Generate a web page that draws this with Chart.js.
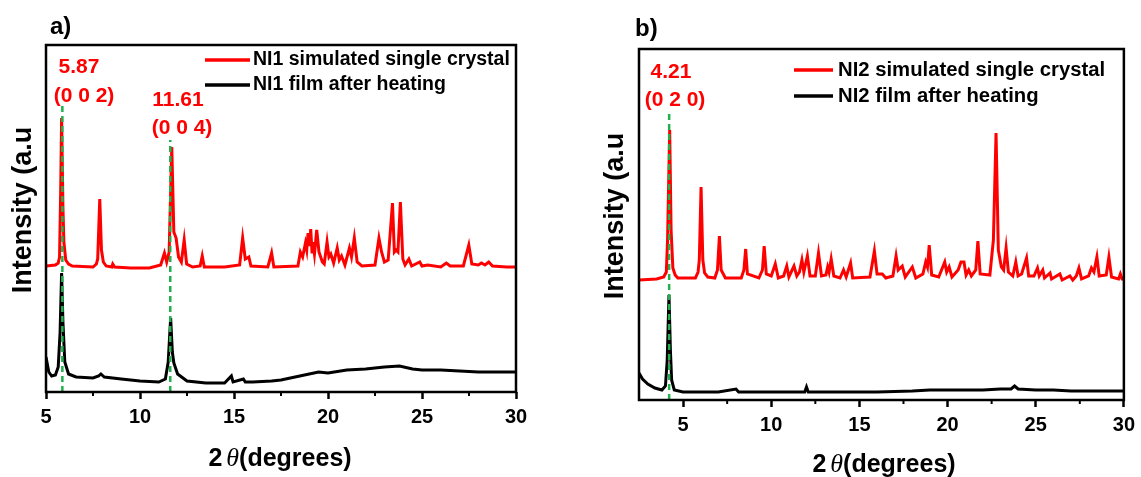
<!DOCTYPE html>
<html>
<head>
<meta charset="utf-8">
<script src="https://cdn.jsdelivr.net/npm/chart.js@4.4.1/dist/chart.umd.min.js"></script>
<style>
  body { margin: 0; background: #fff; }
  canvas { position: absolute; top: 0; }
  #chartA { left: 0; }
  #chartB { left: 570px; }
</style>
</head>
<body>
<canvas id="chartA" width="570" height="477"></canvas>
<canvas id="chartB" width="571" height="477"></canvas>
<script>
// 2theta (degrees), intensity (arbitrary, offset stacked)
const simA = [[5.0,126],[5.5,127],[5.65,129],[5.72,135],[5.78,200],[5.83,274],[5.9,185],[5.95,150],[6.05,132],[6.2,128],[6.4,126],[7.5,125],[7.68,128],[7.75,133],[7.86,193],[7.95,142],[8.05,130],[8.2,126],[8.5,125],[8.55,128],[8.65,125],[9.5,124],[10.5,124],[11.1,127],[11.3,139],[11.42,130],[11.55,140],[11.69,245],[11.8,160],[11.92,154],[12.05,135],[12.2,130],[12.35,152],[12.48,128],[12.8,125],[13.2,126],[13.31,136],[13.42,125],[14.5,125],[15.3,127],[15.46,154],[15.6,133],[15.79,135],[15.9,126],[16.8,125],[17.0,139],[17.12,125],[18.4,126],[18.53,140],[18.65,135],[18.8,149],[18.87,142],[18.94,159],[19.02,146],[19.08,163],[19.15,140],[19.2,150],[19.28,138],[19.4,162],[19.52,140],[19.7,130],[19.8,128],[19.95,150],[20.05,135],[20.15,138],[20.3,129],[20.49,144],[20.6,132],[20.72,136],[20.9,127],[21.14,144],[21.25,135],[21.4,154],[21.55,130],[21.8,126],[22.5,127],[22.71,154],[22.85,140],[23.0,130],[23.2,132],[23.43,189],[23.53,140],[23.62,142],[23.72,140],[23.85,190],[23.98,133],[24.1,127],[24.3,133],[24.45,126],[24.88,130],[25.0,126],[25.3,127],[26.0,125],[26.29,129],[26.5,126],[27.2,126],[27.49,147],[27.65,128],[28.0,127],[28.16,129],[28.35,127],[28.55,130],[28.75,126],[29.5,125],[30,125]];
const filmA = [[5.0,35],[5.15,20],[5.3,16],[5.5,17],[5.65,25],[5.75,60],[5.83,119],[5.9,70],[6.0,30],[6.2,18],[6.6,15],[7.5,14],[7.8,16],[7.92,18],[8.1,15],[9,13],[10,11],[11,10],[11.35,13],[11.5,30],[11.63,74],[11.72,40],[11.8,29],[12.0,18],[12.5,11],[13.5,9],[14.5,9],[14.86,16],[14.95,10],[15.5,13],[15.6,10],[16,10],[17,11],[17.5,12],[18.5,16],[19.5,20],[20,19],[21,22],[22,23],[23,25],[23.8,26],[24.5,23],[25,22],[26,22],[27,21],[28,20],[29,20],[30,20]];
const simB = [[2.5,120],[3.5,121],[3.9,123],[4.05,128],[4.12,160],[4.24,270],[4.32,170],[4.42,132],[4.55,125],[4.7,122],[5.7,122],[5.85,128],[5.92,140],[6.02,213],[6.12,140],[6.22,127],[6.4,123],[6.8,122],[6.95,130],[7.06,164],[7.16,130],[7.4,122],[8.3,122],[8.45,130],[8.55,151],[8.65,126],[9.3,122],[9.5,130],[9.6,154],[9.72,126],[10.0,124],[10.23,136],[10.4,122],[10.7,124],[10.88,134],[11.0,123],[11.29,134],[11.45,124],[11.6,128],[11.74,140],[11.85,128],[12.05,144],[12.2,124],[12.5,124],[12.68,147],[12.85,124],[13.1,125],[13.2,133],[13.28,128],[13.4,141],[13.55,124],[13.9,122],[14.1,130],[14.25,123],[14.5,137],[14.62,122],[15.6,123],[15.85,149],[16.0,126],[16.3,126],[16.5,122],[16.9,124],[17.08,144],[17.2,130],[17.43,134],[17.6,123],[18.0,133],[18.2,122],[18.6,126],[18.76,138],[18.86,133],[18.96,155],[19.1,125],[19.5,123],[19.84,138],[19.95,128],[20.09,133],[20.25,123],[20.6,130],[20.76,138],[20.93,138],[21.05,125],[21.2,130],[21.35,124],[21.6,130],[21.72,159],[21.85,126],[22.4,125],[22.6,160],[22.75,267],[22.88,150],[23.05,133],[23.18,130],[23.32,152],[23.45,128],[23.7,124],[23.87,138],[24.0,124],[24.2,126],[24.48,142],[24.6,124],[24.9,124],[25.1,132],[25.2,124],[25.4,130],[25.5,122],[25.81,127],[25.9,121],[26.37,126],[26.5,120],[26.94,124],[27.1,120],[27.3,124],[27.45,132],[27.6,121],[28.0,124],[28.16,132],[28.3,128],[28.47,143],[28.6,124],[29.0,125],[29.15,143],[29.3,123],[29.7,121],[29.8,126],[29.9,121],[30,121]];
const filmB = [[2.5,27],[2.7,21],[3.0,16],[3.4,12],[3.8,10],[4.0,14],[4.1,40],[4.2,105],[4.28,50],[4.35,20],[4.5,10],[5,8],[6,8],[7,8],[8.0,11],[8.15,8],[10,8],[11,8],[11.9,8],[12.0,13],[12.1,8],[14,8],[16,8],[18,9],[19,10],[20,10],[21,10],[22,10],[23,11],[23.6,11],[23.8,14],[24,11],[25,10],[26,10],[27,9],[28,9],[29,9],[30,9]];

const peaksA = [5.87, 11.61];
const peakTopsA = [288, 252];
const peaksB = [4.21];
const peakTopsB = [290];

const xTicks = [5, 10, 15, 20, 25, 30];
const legendA = ['NI1 simulated single crystal', 'NI1 film after heating'];
const legendB = ['NI2 simulated single crystal', 'NI2 film after heating'];
const notesA = [['5.87', '(0 0 2)'], ['11.61', '(0 0 4)']];
const notesB = [['4.21', '(0 2 0)']];
const yTitle = 'Intensity (a.u';

const RED = '#ff0000';
const GREEN = '#22b04e';
const FONT = '"Liberation Sans", Arial, sans-serif';

function pts(arr) { return arr.map(p => ({x: p[0], y: p[1]})); }

// frame, minor ticks, legend, peak labels, panel letter, axis titles
const decor = {
    id: 'decor',
    afterDraw(chart, args, o) {
        const ctx = chart.ctx;
        const a = chart.chartArea;
        const xs = chart.scales.x;
        ctx.save();
        ctx.strokeStyle = '#000';
        ctx.lineWidth = 2.5;
        ctx.strokeRect(a.left, a.top, a.right - a.left, a.bottom - a.top);

        // minor ticks every 2.5
        ctx.lineWidth = 2;
        for (let v = xs.min; v <= xs.max; v += 2.5) {
            if (v % 5 === 0 || v === xs.min) continue;
            const px = xs.getPixelForValue(v);
            ctx.beginPath();
            ctx.moveTo(px, a.bottom);
            ctx.lineTo(px, a.bottom + 4);
            ctx.stroke();
        }

        // legend
        const cols = [RED, '#000'];
        ctx.font = 'bold ' + o.legFont + 'px ' + FONT;
        ctx.textBaseline = 'middle';
        ctx.textAlign = 'left';
        o.legend.forEach((t, i) => {
            const y = o.legY[i];
            ctx.strokeStyle = cols[i];
            ctx.lineWidth = 3.5;
            ctx.beginPath();
            ctx.moveTo(o.legX[0], y);
            ctx.lineTo(o.legX[1], y);
            ctx.stroke();
            ctx.fillStyle = '#000';
            ctx.fillText(t, o.legX[2], y);
        });

        // peak labels
        ctx.fillStyle = RED;
        ctx.textAlign = 'center';
        ctx.font = 'bold 21px ' + FONT;
        o.notes.forEach((n, i) => {
            const p = o.notePos[i];
            ctx.fillText(n[0], p[0], p[1]);
            ctx.fillText(n[1], p[2], p[3]);
        });

        // panel letter
        ctx.fillStyle = '#000';
        ctx.textAlign = 'left';
        ctx.font = 'bold 24px ' + FONT;
        ctx.fillText(o.letter, o.letterPos[0], o.letterPos[1]);

        // y title
        ctx.save();
        ctx.translate(o.yTitlePos[0], o.yTitlePos[1]);
        ctx.rotate(-Math.PI / 2);
        ctx.textAlign = 'center';
        ctx.font = 'bold 27px ' + FONT;
        ctx.fillText(yTitle, 0, 0);
        ctx.restore();

        // x title: 2θ(degrees)
        const f1 = 'bold 25px ' + FONT;
        const f2 = 'italic 26px "Liberation Serif", serif';
        ctx.font = f1;
        const w1 = ctx.measureText('2').width;
        const w3 = ctx.measureText('(degrees)').width;
        ctx.font = f2;
        const w2 = ctx.measureText('θ').width;
        const gap = 4;
        let x = o.titlePos[0] - (w1 + gap + w2 + w3) / 2;
        const y = o.titlePos[1];
        ctx.font = f1;
        ctx.fillText('2', x, y);
        x += w1 + gap;
        ctx.font = f2;
        ctx.fillText('θ', x, y);
        x += w2;
        ctx.font = f1;
        ctx.fillText('(degrees)', x, y);
        ctx.restore();
    }
};

function makeChart(id, sim, film, peaks, tops, cfg) {
    const datasets = [];
    peaks.forEach((p, i) => {
        datasets.push({
            data: [{x: p, y: 0}, {x: p, y: tops[i]}],
            borderColor: GREEN,
            borderWidth: 2.5,
            borderDash: [6, 4],
            pointRadius: 0,
            order: 0
        });
    });
    datasets.push({data: pts(sim), borderColor: RED, borderWidth: 3, pointRadius: 0, tension: 0, order: 2});
    datasets.push({data: pts(film), borderColor: '#000', borderWidth: 3, pointRadius: 0, tension: 0, order: 3});

    return new Chart(document.getElementById(id), {
        type: 'line',
        data: {datasets: datasets},
        options: {
            responsive: false,
            animation: false,
            layout: {padding: {top: cfg.top, right: cfg.right, left: 0, bottom: 0}},
            plugins: {
                legend: {display: false},
                tooltip: {enabled: false},
                decor: cfg.decor
            },
            scales: {
                x: {
                    type: 'linear',
                    min: cfg.xmin,
                    max: 30,
                    afterBuildTicks: s => { s.ticks = xTicks.map(v => ({value: v})); },
                    afterFit: s => { s.height = cfg.xh; },
                    ticks: {
                        color: '#000',
                        font: {family: FONT, size: 20, weight: 'bold'},
                        padding: 6,
                        maxRotation: 0
                    },
                    grid: {
                        drawOnChartArea: false,
                        tickLength: 7,
                        tickWidth: 2.5,
                        tickColor: '#000'
                    },
                    border: {display: false}
                },
                y: {
                    min: 0,
                    max: cfg.ymax,
                    afterFit: s => { s.width = cfg.yw; },
                    ticks: {display: false},
                    grid: {display: false},
                    border: {display: false}
                }
            }
        },
        plugins: [decor]
    });
}

makeChart('chartA', simA, filmA, peaksA, peakTopsA, {
    top: 45, right: 54, xh: 85, yw: 46, ymax: 347, xmin: 5,
    decor: {
        legend: legendA, legFont: 19.5, legX: [205, 250, 253], legY: [60, 85],
        notes: notesA, notePos: [[79, 67, 84, 96], [178, 100, 182, 128]],
        letter: 'a)', letterPos: [50, 27],
        yTitlePos: [24, 210],
        titlePos: [280, 459]
    }
});

makeChart('chartB', simB, filmB, peaksB, peakTopsB, {
    top: 49, right: 13, xh: 77, yw: 69, ymax: 351, xmin: 2.5,
    decor: {
        legend: legendB, legFont: 20.3, legX: [224, 263, 268], legY: [70, 96],
        notes: notesB, notePos: [[101, 72, 105, 100]],
        letter: 'b)', letterPos: [65, 29],
        yTitlePos: [46, 216],
        titlePos: [314, 465]
    }
});
</script>
</body>
</html>
